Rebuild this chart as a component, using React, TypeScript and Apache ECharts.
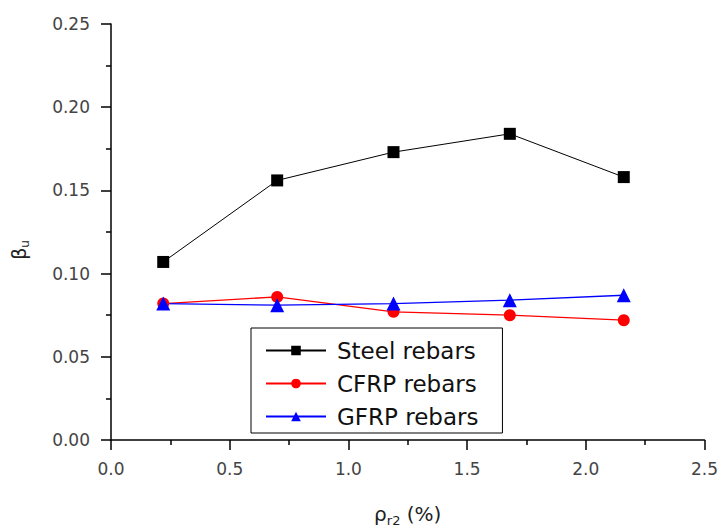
import React, { useEffect, useRef } from "react";
import * as echarts from "echarts";

const xValues = [0.22, 0.70, 1.19, 1.68, 2.16];
const steel = [0.107, 0.156, 0.173, 0.184, 0.158];
const cfrp = [0.082, 0.086, 0.077, 0.075, 0.072];
const gfrp = [0.082, 0.081, 0.082, 0.084, 0.087];
const seriesNames = ["Steel rebars", "CFRP rebars", "GFRP rebars"];

const font = "DejaVu Sans";

export default function App() {
  const ref = useRef<HTMLDivElement>(null);
  useEffect(() => {
    if (!ref.current) return;
    const chart = echarts.init(ref.current, null, { renderer: "svg" });
    const pair = (ys: number[]) => xValues.map((x, i) => [x, ys[i]]);
    chart.setOption({
      animation: false,
      backgroundColor: "#fff",
      grid: { left: 111, right: 13, top: 24, bottom: 89, containLabel: false },
      legend: {
        orient: "vertical",
        left: 251,
        top: 328,
        padding: [11, 24, 5, 14],
        itemWidth: 60,
        itemHeight: 12,
        itemGap: 10,
        borderColor: "#000",
        borderWidth: 1,
        backgroundColor: "#fff",
        textStyle: { fontFamily: font, fontSize: 23, color: "#111", padding: [0, 0, 0, 6] },
        data: seriesNames,
      },
      xAxis: {
        type: "value",
        min: 0,
        max: 2.5,
        interval: 0.5,
        name: "ρ{sub|r2} (%)",
        nameLocation: "middle",
        nameGap: 60,
        nameTextStyle: {
          fontFamily: font,
          fontSize: 20,
          color: "#222",
          rich: { sub: { fontFamily: font, fontSize: 13, color: "#222", padding: [14, 0, 0, 0] } },
        },
        axisLine: { lineStyle: { color: "#000", width: 1.5 } },
        axisTick: { inside: false, length: 10, lineStyle: { color: "#000", width: 1.5 } },
        minorTick: { show: true, splitNumber: 2, length: 5, lineStyle: { color: "#000", width: 1.5 } },
        splitLine: { show: false },
        axisLabel: {
          margin: 20,
          fontFamily: font,
          fontSize: 17,
          color: "#444",
          formatter: (v: number) => v.toFixed(1),
        },
      },
      yAxis: {
        type: "value",
        min: 0,
        max: 0.25,
        interval: 0.05,
        name: "β{sub|u}",
        nameLocation: "middle",
        nameGap: 80,
        nameRotate: 90,
        nameTextStyle: {
          fontFamily: font,
          fontSize: 19,
          color: "#222",
          padding: [0, 36, 0, 0],
          rich: { sub: { fontFamily: font, fontSize: 12, color: "#222", padding: [12, 0, 0, 0] } },
        },
        axisLine: { show: true, lineStyle: { color: "#000", width: 1.5 } },
        axisTick: { show: true, inside: false, length: 10, lineStyle: { color: "#000", width: 1.5 } },
        minorTick: { show: true, splitNumber: 2, length: 5, lineStyle: { color: "#000", width: 1.5 } },
        splitLine: { show: false },
        axisLabel: {
          margin: 21,
          fontFamily: font,
          fontSize: 17,
          color: "#444",
          formatter: (v: number) => v.toFixed(2),
        },
      },
      series: [
        {
          name: seriesNames[0],
          type: "line",
          data: pair(steel),
          symbol: "rect",
          symbolSize: 12,
          itemStyle: { color: "#000" },
          lineStyle: { color: "#000", width: 1 },
        },
        {
          name: seriesNames[1],
          type: "line",
          data: pair(cfrp),
          symbol: "circle",
          symbolSize: 12,
          itemStyle: { color: "#ff0000" },
          lineStyle: { color: "#ff0000", width: 1.3 },
        },
        {
          name: seriesNames[2],
          type: "line",
          data: pair(gfrp),
          symbol: "triangle",
          symbolSize: 14,
          itemStyle: { color: "#0000ff" },
          lineStyle: { color: "#0000ff", width: 1.3 },
        },
      ],
    });
    return () => chart.dispose();
  }, []);
  return <div ref={ref} style={{ position: "fixed", left: 0, top: 0, width: 721, height: 532 }} />;
}
